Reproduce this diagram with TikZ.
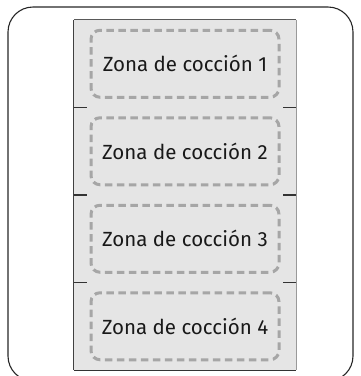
\documentclass[tikz,border=0pt]{standalone}
\usepackage{fontspec}
\setmainfont{Fira Sans}
\usetikzlibrary{positioning,calc}

\tikzset{
  panel/.style={fill=gray!20, minimum width=222pt, minimum height=87.5pt, inner sep=0pt},
  zona/.style={draw=gray!70, dashed, dash pattern=on 7.5pt off 4.5pt, line width=3pt,
    rounded corners=9pt, minimum width=188pt, minimum height=67pt,
    font=\fontsize{20.5}{24}\selectfont, text=black!90}
}

\begin{document}
\begin{tikzpicture}[x=1pt, y=1pt]
  \useasboundingbox (0,0) rectangle (361,-376);
  \clip (0,0) rectangle (361,-376);

  % marco exterior (cortado abajo)
  \draw[line width=1.1pt, black!85, rounded corners=25pt] (8,-7) rectangle (353,-381);

  % zonas de coccion
  \def\H{87.5}
  \foreach \i in {1,...,4}{
    \node[panel] (p\i) at (185,{-20-\H*(\i-0.5)}) {};
    \node[zona] (z\i) at (p\i.center) {Zona de cocción \i};
  }

  % bordes del conjunto
  \draw[line width=0.9pt, black!65] (p1.north west) -- (p1.north east);
  \draw[line width=0.7pt, gray!80] (p1.north east) -- (p4.south east);
  \draw[line width=1.2pt, black!75] (p1.north west) -- (p4.south west);
  \draw[line width=0.9pt, black!80] (p4.south west) -- (p4.south east);

  % marcas entre paneles
  \foreach \i/\j in {1/2,2/3,3/4}{
    \coordinate (bl\i) at ($(p\i.south west)!0.5!(p\j.north west)$);
    \coordinate (br\i) at ($(p\i.south east)!0.5!(p\j.north east)$);
    \draw[line width=1.1pt, black!80] (bl\i) -- ++(13,0);
    \draw[line width=1.1pt, black!80] (br\i) -- ++(-13,0);
  }
\end{tikzpicture}
\end{document}
